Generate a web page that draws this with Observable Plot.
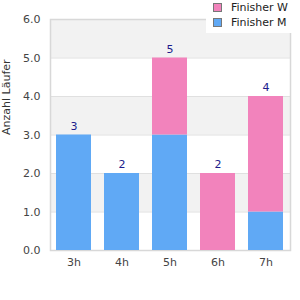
<!DOCTYPE html>
<html>
<head>
<meta charset="utf-8">
<script src="https://cdn.jsdelivr.net/npm/d3@7"></script>
<script src="https://cdn.jsdelivr.net/npm/@observablehq/plot@0.6"></script>
<style>
  html, body { margin: 0; padding: 0; background: #fff; }
  #wrap { position: relative; width: 300px; height: 300px; font-family: "DejaVu Sans", sans-serif; }
  #legend { position: absolute; left: 206px; top: 0; width: 94px; height: 33px; background: #fff; font-size: 11px; color: #222; }
  .item { position: absolute; left: 7px; height: 14px; line-height: 14px; white-space: nowrap; }
  .sw { display: inline-block; width: 7px; height: 7px; border: 1px solid #777; vertical-align: middle; margin-right: 9px; position: relative; top: -1px; }
</style>
</head>
<body>
<div id="wrap"></div>
<script>
const categories = ["3h", "4h", "5h", "6h", "7h"];
const finisherM = [3, 2, 3, 0, 1];
const finisherW = [0, 0, 2, 2, 3];
const seriesNames = ["Finisher M", "Finisher W"];
const seriesColors = ["#60a9f5", "#f283bc"];
const yTicks = [0, 1, 2, 3, 4, 5, 6];
const bands = [[0, 1, "#ffffff"], [1, 2, "#f2f2f2"], [2, 3, "#ffffff"], [3, 4, "#f2f2f2"], [4, 5, "#ffffff"], [5, 6, "#f2f2f2"]];
const yLabel = "Anzahl Läufer";

const rows = [];
categories.forEach((c, i) => rows.push({cat: c, series: seriesNames[0], value: finisherM[i]}));
categories.forEach((c, i) => rows.push({cat: c, series: seriesNames[1], value: finisherW[i]}));
const totals = categories.map((c, i) => ({cat: c, total: finisherM[i] + finisherW[i]}));

const chart = Plot.plot({
  width: 300,
  height: 300,
  marginLeft: 50,
  marginRight: 10,
  marginTop: 19,
  marginBottom: 50,
  style: {fontFamily: "DejaVu Sans, sans-serif", fontSize: "11px", background: "#fff"},
  x: {domain: categories, paddingInner: 0.27, paddingOuter: 0.135, label: null, tickSize: 0, tickPadding: 8},
  y: {domain: [0, 6], ticks: yTicks, tickFormat: d3.format(".1f"), label: null, tickSize: 0, tickPadding: 10},
  color: {domain: seriesNames, range: seriesColors},
  marks: [
    Plot.rect(bands, {y1: d => d[0], y2: d => d[1], fill: d => d[2]}),
    Plot.ruleY(yTicks, {stroke: "#e0e0e0", strokeWidth: 1}),
    Plot.frame({stroke: "#d8d8d8", strokeWidth: 1.5}),
    Plot.barY(rows, {x: "cat", y: "value", fill: "series"}),
    Plot.text(totals, {x: "cat", y: "total", text: d => String(d.total), dy: -9, fill: "#1c1c8c", fontSize: 11}),
    Plot.text([yLabel], {frameAnchor: "left", text: d => d, rotate: -90, dx: -44, fill: "#333", fontSize: 11})
  ]
});
chart.style.color = "#444";
chart.querySelectorAll("g[aria-label$='axis'] text, g[aria-label*='tick label'] text").forEach(t => t.setAttribute("fill", "#444"));

const wrap = document.getElementById("wrap");
wrap.appendChild(chart);

const legend = document.createElement("div");
legend.id = "legend";
const legendOrder = [1, 0];
legendOrder.forEach((k, j) => {
  const item = document.createElement("div");
  item.className = "item";
  item.style.top = (1 + j * 15) + "px";
  const sw = document.createElement("span");
  sw.className = "sw";
  sw.style.background = seriesColors[k];
  item.appendChild(sw);
  item.appendChild(document.createTextNode(seriesNames[k]));
  legend.appendChild(item);
});
wrap.appendChild(legend);
</script>
</body>
</html>
